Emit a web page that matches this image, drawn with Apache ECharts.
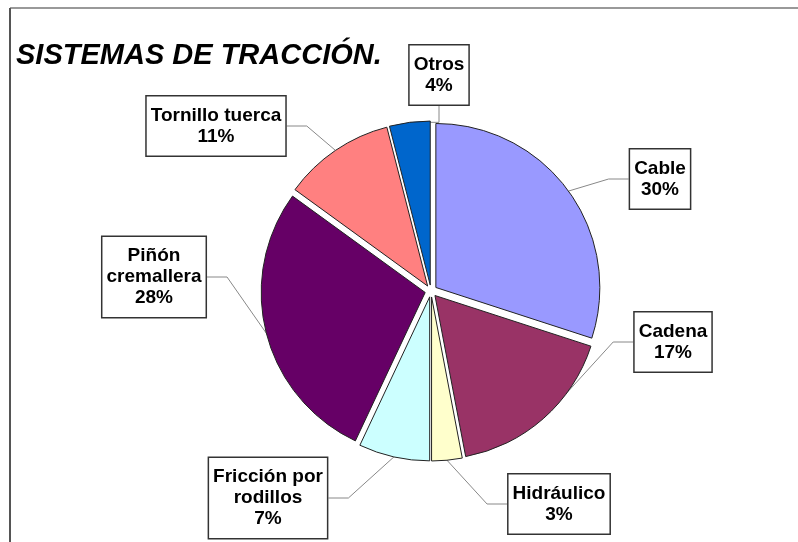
<!DOCTYPE html>
<html>
<head>
<meta charset="utf-8">
<script src="https://cdn.jsdelivr.net/npm/echarts@6/dist/echarts.min.js"></script>
<style>
  html, body { margin: 0; padding: 0; background: #fff; }
  #chart { width: 798px; height: 542px; }
</style>
</head>
<body>
<div id="chart"></div>
<script>
// datos (porcentajes)
const categories = ['Cable', 'Cadena', 'Hidráulico', 'Fricción por\nrodillos', 'Piñón\ncremallera', 'Tornillo tuerca', 'Otros'];
const values = [30, 17, 3, 7, 28, 11, 4];
const colors = ['#9999FF', '#993366', '#FFFFCC', '#CCFFFF', '#660066', '#FF8080', '#0066CC'];

// centro de cada cuadro de etiqueta (px)
const labelPos = [
  [660, 179],
  [673, 342],
  [559, 504],
  [268, 498],
  [154, 277],
  [216, 126],
  [439, 75],
];

const CX = 431;
const CY = 291;
const R = 164;
const EXPLODE = 6;

const chart = echarts.init(document.getElementById('chart'));

const total = values.reduce((a, b) => a + b, 0);

// una serie por porción, desplazada hacia fuera (efecto "explotado")
const series = [];
let acc = 0;
values.forEach((v, i) => {
  const mid = (90 - ((acc + v / 2) / total) * 360) * Math.PI / 180;
  acc += v;
  const cx = CX + EXPLODE * Math.cos(mid);
  const cy = CY - EXPLODE * Math.sin(mid);
  series.push({
    type: 'pie',
    center: [cx, cy],
    radius: R,
    startAngle: 90,
    clockwise: true,
    avoidLabelOverlap: false,
    emphasis: { disabled: true },
    silent: true,
    label: {
      show: true,
      position: 'outside',
      formatter: (p) => p.name + '\n' + p.value + '%',
      fontFamily: 'Liberation Sans',
      fontSize: 19,
      fontWeight: 'bold',
      lineHeight: 21,
      color: '#000',
      align: 'center',
      backgroundColor: '#fff',
      borderColor: '#333',
      borderWidth: 1.5,
      padding: [9, 4, 8, 4],
    },
    labelLine: {
      show: true,
      length: 20,
      length2: 20,
      lineStyle: { color: '#888', width: 1 },
    },
    labelLayout: () => ({
      x: labelPos[i][0],
      y: labelPos[i][1],
      align: 'center',
      verticalAlign: 'middle',
    }),
    data: categories.map((name, j) => {
      if (j === i) {
        return {
          name: name,
          value: values[j],
          itemStyle: { color: colors[j], borderColor: '#222', borderWidth: 1 },
        };
      }
      return {
        name: name,
        value: values[j],
        itemStyle: { color: 'rgba(0,0,0,0)', borderWidth: 0 },
        label: { show: false },
        labelLine: { show: false },
      };
    }),
  });
});

const option = {
  animation: false,
  title: {
    text: 'SISTEMAS DE TRACCIÓN.',
    left: 11,
    top: 36,
    textStyle: {
      fontFamily: 'Liberation Sans',
      fontSize: 29,
      fontWeight: 'bold',
      fontStyle: 'italic',
      color: '#000',
    },
  },
  graphic: [
    {
      type: 'line',
      shape: { x1: 10, y1: 8, x2: 798, y2: 8 },
      style: { stroke: '#999', lineWidth: 2 },
    },
    {
      type: 'line',
      shape: { x1: 10, y1: 8, x2: 10, y2: 542 },
      style: { stroke: '#555', lineWidth: 2 },
    },
  ],
  series: series,
};

chart.setOption(option);
</script>
</body>
</html>
